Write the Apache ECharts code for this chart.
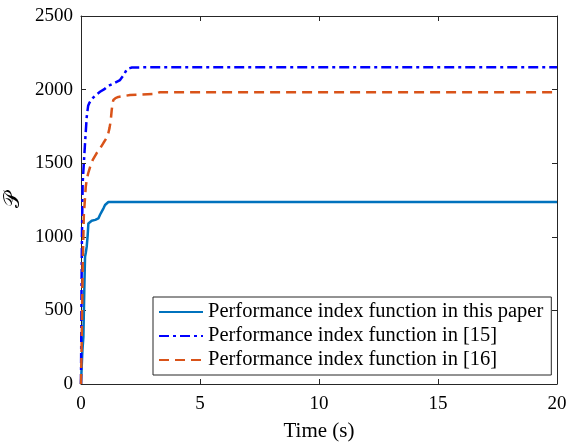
<!DOCTYPE html>
<html lang="en">
<head>
    <meta charset="utf-8">
    <title>Performance index</title>
    <script type="text/javascript" src="https://cdn.jsdelivr.net/npm/echarts@6/dist/echarts.min.js"></script>
    <style>
        html, body { margin: 0; padding: 0; background: #fff; }
        #main { width: 569px; height: 443px; }
    </style>
</head>
<body>
<div id="main"></div>
<script>
    // data
    var names = ['Performance index function in this paper', 'Performance index function in [15]', 'Performance index function in [16]'];
    var xTicks = [0, 5, 10, 15, 20];
    var yTicks = [0, 500, 1000, 1500, 2000, 2500];

    var tPaper = [0, 0.03, 0.06, 0.1, 0.14, 0.17, 0.2, 0.24, 0.28, 0.31, 0.36, 0.45, 0.6, 0.73, 0.8, 0.87, 0.95, 1.01, 1.08, 1.15, 20];
    var vPaper = [0, 120, 230, 320, 650, 865, 890, 933, 1010, 1091, 1100, 1109, 1115, 1125, 1150, 1171, 1195, 1216, 1228, 1236, 1236];

    var t15 = [0, 0.02, 0.04, 0.07, 0.12, 0.17, 0.24, 0.3, 0.35, 0.45, 0.6, 0.8, 1.0, 1.1, 1.22, 1.4, 1.64, 1.8, 1.93, 2.05, 2.14, 3, 20];
    var v15 = [0, 600, 1000, 1365, 1500, 1637, 1814, 1890, 1909, 1935, 1960, 1985, 2005, 2020, 2031, 2045, 2065, 2100, 2140, 2146, 2150, 2152, 2152];

    var t16 = [0, 0.03, 0.07, 0.12, 0.2, 0.24, 0.3, 0.38, 0.5, 0.66, 0.8, 0.94, 1.05, 1.15, 1.2, 1.25, 1.29, 1.33, 1.36, 1.45, 1.57, 2.06, 2.5, 3.18, 3.3, 20];
    var v16 = [0, 300, 800, 1150, 1340, 1386, 1430, 1474, 1525, 1569, 1600, 1637, 1665, 1705, 1740, 1790, 1861, 1910, 1929, 1942, 1950, 1963, 1966, 1972, 1982, 1982];

    function zip(a, b) {
        var out = [];
        for (var i = 0; i < a.length; i++) out.push([a[i], b[i]]);
        return out;
    }

    var font = 'Liberation Serif';
    var axisCol = '#262626';

    var myChart = echarts.init(document.getElementById('main'));
    var option = {
        animation: false,
        backgroundColor: '#fff',
        grid: { left: 81, right: 12, top: 16, bottom: 59, containLabel: false, outerBoundsMode: 'none' },
        legend: {
            orient: 'vertical',
            left: 153,
            top: 297,
            data: names,
            itemWidth: 44,
            itemHeight: 14,
            itemGap: 2,
            padding: [4, 8, 4, 5],
            borderColor: '#262626',
            borderWidth: 1,
            backgroundColor: '#fff',
            itemStyle: { opacity: 0 },
            textStyle: { fontFamily: font, fontSize: 20.5, color: '#000', lineHeight: 22 }
        },
        xAxis: [{
            type: 'value', min: 0, max: 20, interval: 5,
            name: 'Time (s)', nameLocation: 'middle', nameGap: 37,
            nameTextStyle: { fontFamily: font, fontSize: 21, color: '#000' },
            axisLine: { onZero: false, lineStyle: { color: axisCol, width: 1 } },
            axisTick: { inside: true, length: 5, lineStyle: { color: axisCol } },
            axisLabel: { fontFamily: font, fontSize: 19, color: '#000', margin: 11 },
            splitLine: { show: false }
        }, {
            type: 'value', min: 0, max: 20, interval: 5, position: 'top',
            axisLine: { onZero: false, lineStyle: { color: axisCol, width: 1 } },
            axisTick: { inside: true, length: 5, lineStyle: { color: axisCol } },
            axisLabel: { show: false },
            splitLine: { show: false }
        }],
        yAxis: [{
            type: 'value', min: 0, max: 2500, interval: 500,
            name: '\uD835\uDCAB', nameLocation: 'middle', nameGap: 52, nameRotate: 90,
            nameTextStyle: { fontFamily: font, fontSize: 22, color: '#000' },
            axisLine: { show: true, onZero: false, lineStyle: { color: axisCol, width: 1 } },
            axisTick: { show: true, inside: true, length: 5, lineStyle: { color: axisCol } },
            axisLabel: {
                fontFamily: font, fontSize: 19, color: '#000', margin: 8,
                formatter: function (v) { return String(v); }
            },
            splitLine: { show: false }
        }, {
            type: 'value', min: 0, max: 2500, interval: 500, position: 'right',
            axisLine: { show: true, onZero: false, lineStyle: { color: axisCol, width: 1 } },
            axisTick: { show: true, inside: true, length: 5, lineStyle: { color: axisCol } },
            axisLabel: { show: false },
            splitLine: { show: false }
        }],
        series: [{
            name: names[0], type: 'line', symbol: 'none',
            data: zip(tPaper, vPaper),
            itemStyle: { color: '#0072BD' },
            lineStyle: { color: '#0072BD', width: 2.5, type: 'solid' }
        }, {
            name: names[1], type: 'line', symbol: 'none',
            data: zip(t15, v15),
            itemStyle: { color: '#0000FF' },
            lineStyle: { color: '#0000FF', width: 2.5, type: [10, 4, 3, 4] }
        }, {
            name: names[2], type: 'line', symbol: 'none',
            data: zip(t16, v16),
            itemStyle: { color: '#D95319' },
            lineStyle: { color: '#D95319', width: 2.5, type: [10, 6] }
        }]
    };
    myChart.setOption(option);
</script>
</body>
</html>
